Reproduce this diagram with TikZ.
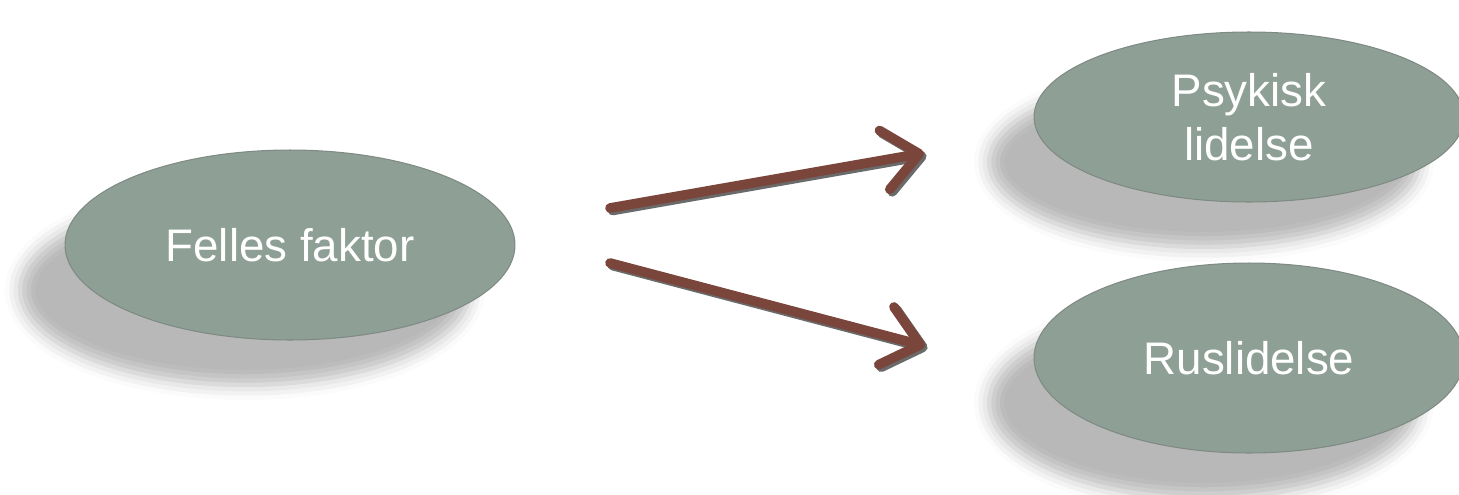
\documentclass[tikz,border=0pt]{standalone}
\usepackage{fontspec}
\setmainfont{Liberation Sans}
\usetikzlibrary{positioning, shapes.geometric, arrows.meta, calc, shadows.blur}
\definecolor{ovalgrey}{HTML}{8E9F96}
\definecolor{ovalrim}{HTML}{7F8A84}
\definecolor{arrowbrown}{HTML}{7A463C}
\definecolor{arrowshade}{HTML}{6A6A6A}

\tikzset{
  oval/.style={ellipse, fill=ovalgrey, draw=ovalrim, line width=0.6pt,
    text=white, font=\fontsize{26}{31}\selectfont, align=center, inner sep=0pt,
    blur shadow={shadow xshift=-0.9cm, shadow yshift=-0.9cm,
      shadow blur radius=0.3cm, shadow opacity=28}},
  causal/.style={line width=5.5pt, line cap=round,
    -{Straight Barb[length=20pt, width=34pt, round]}}
}

\begin{document}
\begin{tikzpicture}[x=0.02cm, y=-0.02cm]
  \useasboundingbox (0,0) rectangle (1459,494);

  \node[oval, minimum width=9cm, minimum height=3.8cm] (felles) at (290,245) {Felles faktor};
  \node[oval, minimum width=8.6cm, minimum height=3.4cm] (psykisk) at (1249,117) {Psykisk\\lidelse};
  \node[oval, minimum width=8.6cm, minimum height=3.8cm] (rus) at (1249,358) {Ruslidelse};

  % arrow ends
  \coordinate (up1) at (610,208);
  \coordinate (up2) at (924,153);
  \coordinate (lo1) at (610,263);
  \coordinate (lo2) at (925,346);

  \draw[causal, arrowshade, transform canvas={shift={(2.5,2.5)}}] (up1) -- (up2);
  \draw[causal, arrowshade, transform canvas={shift={(2.5,2.5)}}] (lo1) -- (lo2);
  \draw[causal, arrowbrown] (up1) -- (up2);
  \draw[causal, arrowbrown] (lo1) -- (lo2);
\end{tikzpicture}
\end{document}
